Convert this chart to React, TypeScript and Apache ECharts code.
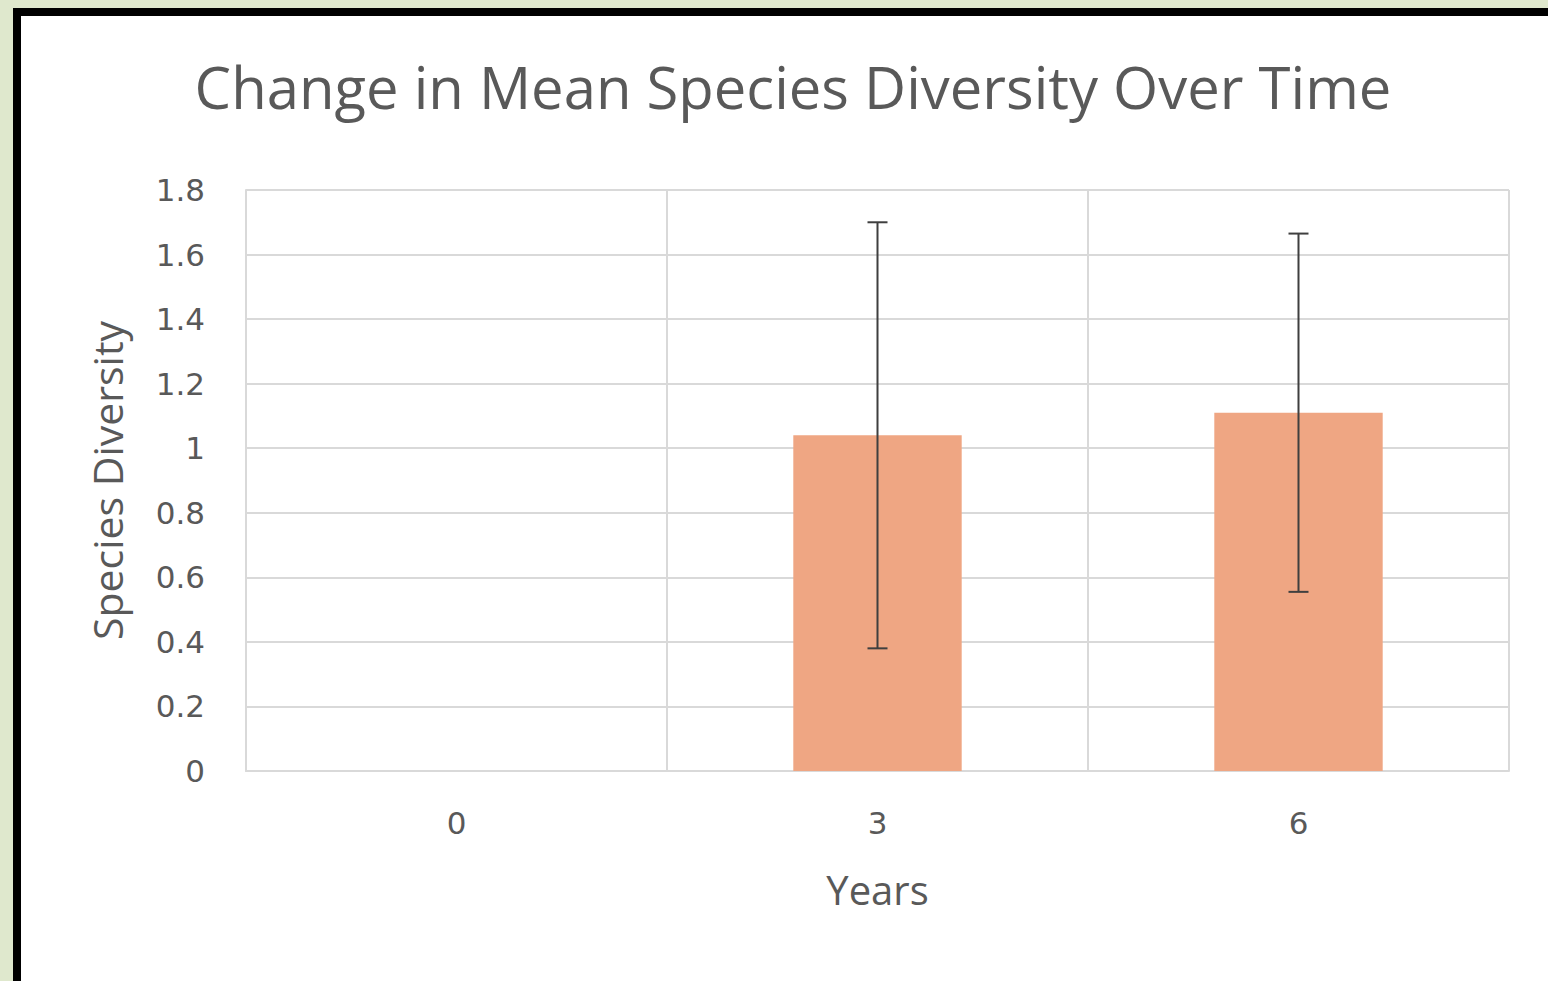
import React, { useEffect, useRef } from "react";
import * as echarts from "echarts";

const categories = ["0", "3", "6"];
const meanDiversity = [0, 1.04, 1.11];
const errorAmount = [0, 0.66, 0.555];
const titleText = "Change in Mean Species Diversity Over Time";
const xAxisName = "Years";
const yAxisName = "Species Diversity";

export default function App() {
  const ref = useRef<HTMLDivElement>(null);

  useEffect(() => {
    if (!ref.current) return;
    const chart = echarts.init(ref.current, undefined, { renderer: "svg" });
    const errData = categories
      .map((_, i) => [i, meanDiversity[i] - errorAmount[i], meanDiversity[i] + errorAmount[i], errorAmount[i]])
      .filter((d) => d[3] > 0);
    const gridColor = "#d9d9d9";
    const textColor = "#595959";
    chart.setOption({
      animation: false,
      title: {
        text: titleText,
        left: 788,
        top: 52,
        textAlign: "center",
        textStyle: { fontFamily: "Open Sans", fontSize: 58, fontWeight: "normal", color: textColor },
      },
      grid: { left: 246, top: 190, right: 39, bottom: 210, containLabel: false },
      xAxis: {
        type: "category",
        data: categories,
        boundaryGap: true,
        name: xAxisName,
        nameLocation: "middle",
        nameGap: 98,
        nameTextStyle: { fontFamily: "Open Sans", fontSize: 40, color: textColor },
        axisTick: { show: false },
        axisLine: { show: true, lineStyle: { color: gridColor, width: 2 } },
        axisLabel: { fontFamily: "DejaVu Sans", fontSize: 31, color: textColor, margin: 36 },
        splitLine: { show: true, lineStyle: { color: gridColor, width: 2 } },
      },
      yAxis: {
        type: "value",
        min: 0,
        max: 1.8,
        interval: 0.2,
        name: yAxisName,
        nameLocation: "middle",
        nameGap: 119,
        nameRotate: 90,
        nameTextStyle: { fontFamily: "Open Sans", fontSize: 41, color: textColor },
        axisLine: { show: true, lineStyle: { color: gridColor, width: 2 } },
        axisTick: { show: false },
        axisLabel: { fontFamily: "DejaVu Sans", fontSize: 31, color: textColor, margin: 41 },
        splitLine: { show: true, lineStyle: { color: gridColor, width: 2 } },
      },
      series: [
        {
          type: "bar",
          data: meanDiversity,
          barWidth: "40%",
          itemStyle: { color: "#EFA683" },
        },
        {
          type: "custom",
          data: errData,
          z: 10,
          renderItem: (params: any, api: any) => {
            const x = api.value(0);
            const lo = api.coord([x, api.value(1)]);
            const hi = api.coord([x, api.value(2)]);
            const half = 10;
            const style = { stroke: "#3f3f3f", lineWidth: 2 };
            return {
              type: "group",
              children: [
                { type: "line", shape: { x1: hi[0], y1: hi[1], x2: lo[0], y2: lo[1] }, style },
                { type: "line", shape: { x1: hi[0] - half, y1: hi[1], x2: hi[0] + half, y2: hi[1] }, style },
                { type: "line", shape: { x1: lo[0] - half, y1: lo[1], x2: lo[0] + half, y2: lo[1] }, style },
              ],
            };
          },
        },
      ],
    });
    return () => chart.dispose();
  }, []);

  return (
    <div style={{ position: "fixed", left: 0, top: 0, width: 1548, height: 981, background: "#dfe8cd", overflow: "hidden" }}>
      <div
        style={{
          position: "absolute",
          left: 13,
          top: 8,
          width: 1535,
          height: 973,
          background: "#ffffff",
          borderLeft: "8px solid #000",
          borderTop: "8px solid #000",
          boxSizing: "border-box",
        }}
      />
      <div ref={ref} style={{ position: "absolute", left: 0, top: 0, width: 1548, height: 981 }} />
    </div>
  );
}
